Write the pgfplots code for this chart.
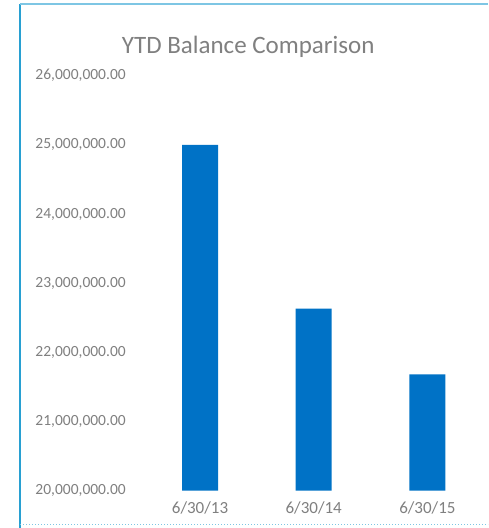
\documentclass[border=0pt]{standalone}
\usepackage{fontspec}
\setmainfont{Carlito}
\usepackage{pgfplots}
\pgfplotsset{compat=1.18}
\definecolor{barblue}{RGB}{0,114,198}
\definecolor{txtgray}{RGB}{128,128,128}
\definecolor{frameblue}{RGB}{40,160,210}
\begin{document}
\begin{tikzpicture}[x=1pt,y=1pt]
\useasboundingbox (0,0) rectangle (488,528);
\fill[white] (0,0) rectangle (488,528);
\draw[frameblue, line width=2.5pt] (20,0) -- (20,524);
\draw[frameblue!60, line width=1.5pt] (20,524) -- (488,524);
\draw[frameblue!60, dotted, line width=1pt] (20,3) -- (488,3);
\begin{axis}[
  at={(126,54)}, anchor=south west,
  scale only axis, width=341pt, height=415pt,
  xmin=-0.5, xmax=2.5, ymin=20000000, ymax=26000000,
  axis line style={draw=none}, tick style={draw=none},
  major tick length=0pt,
  xtick={0,1,2}, xticklabels={6/30/13,6/30/14,6/30/15},
  ytick={20000000,21000000,22000000,23000000,24000000,25000000,26000000},
  yticklabels={{20,000,000.00},{21,000,000.00},{22,000,000.00},{23,000,000.00},{24,000,000.00},{25,000,000.00},{26,000,000.00}},
  scaled y ticks=false,
  yticklabel style={xshift=-14pt, font=\fontsize{15.5}{18}\selectfont, text=txtgray},
  xticklabel style={yshift=-8pt, font=\fontsize{17}{19}\selectfont, text=txtgray},
  title={YTD Balance Comparison},
  title style={at={(0.308,1)}, anchor=base, yshift=16pt, font=\fontsize{25}{29}\selectfont, text=txtgray},
  clip=true,
]
\addplot[ybar, bar width=36pt, bar shift=0pt, fill=barblue, draw=none] coordinates {(0,25000000) (1,22630000) (2,21680000)};
\end{axis}
\end{tikzpicture}
\end{document}
